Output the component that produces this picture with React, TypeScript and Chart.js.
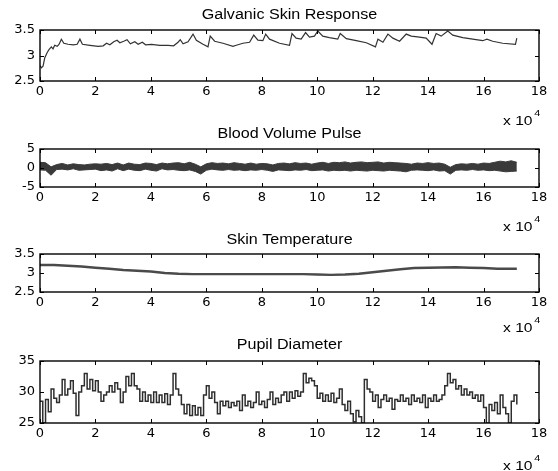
import React, { useEffect, useRef } from 'react';
import { Chart, registerables } from 'chart.js';

Chart.register(...registerables);

// ---------------- data (x in units of 10^4 samples) ----------------
const xTickMax = 18;
const xTickStep = 2;

// Galvanic Skin Response
const gsrX = [0.0, 0.05, 0.11, 0.17, 0.26, 0.33, 0.41, 0.47, 0.53, 0.62, 0.69, 0.77, 0.86, 1.01, 1.2, 1.34, 1.44, 1.53, 1.8, 2.1, 2.28, 2.4, 2.52, 2.66, 2.78, 2.88, 3.02, 3.14, 3.26, 3.42, 3.54, 3.69, 3.81, 4.02, 4.32, 4.62, 4.82, 4.98, 5.06, 5.16, 5.34, 5.52, 5.64, 5.88, 6.06, 6.14, 6.3, 6.6, 6.96, 7.08, 7.32, 7.56, 7.71, 7.86, 8.04, 8.14, 8.28, 8.64, 9.0, 9.09, 9.24, 9.42, 9.58, 9.72, 9.9, 10.02, 10.2, 10.44, 10.74, 10.83, 11.05, 11.41, 11.77, 12.1, 12.19, 12.37, 12.55, 12.73, 12.97, 13.21, 13.39, 13.69, 13.93, 14.14, 14.29, 14.47, 14.71, 14.89, 15.25, 15.73, 15.97, 16.12, 16.33, 16.69, 17.15, 17.2];
const gsrY = [2.8, 2.76, 2.79, 2.95, 3.06, 3.12, 3.17, 3.13, 3.2, 3.18, 3.22, 3.32, 3.24, 3.22, 3.21, 3.22, 3.32, 3.22, 3.2, 3.18, 3.19, 3.24, 3.21, 3.27, 3.3, 3.25, 3.28, 3.31, 3.23, 3.27, 3.22, 3.26, 3.21, 3.22, 3.2, 3.2, 3.19, 3.26, 3.31, 3.23, 3.27, 3.42, 3.3, 3.22, 3.17, 3.38, 3.28, 3.24, 3.18, 3.2, 3.24, 3.26, 3.4, 3.3, 3.29, 3.42, 3.32, 3.24, 3.2, 3.43, 3.34, 3.32, 3.45, 3.36, 3.38, 3.48, 3.38, 3.35, 3.32, 3.43, 3.33, 3.29, 3.25, 3.17, 3.32, 3.26, 3.42, 3.34, 3.28, 3.42, 3.38, 3.36, 3.34, 3.22, 3.43, 3.38, 3.48, 3.4, 3.35, 3.31, 3.29, 3.32, 3.28, 3.24, 3.22, 3.34];

// Blood Volume Pulse: upper / lower envelope of the dense trace
const bvpX = [0.0, 0.2, 0.4, 0.6, 0.8, 1.0, 1.2, 1.4, 1.6, 1.8, 2.0, 2.2, 2.4, 2.6, 2.8, 3.0, 3.2, 3.4, 3.6, 3.8, 4.0, 4.2, 4.4, 4.6, 4.8, 5.0, 5.2, 5.4, 5.6, 5.8, 6.0, 6.2, 6.4, 6.6, 6.8, 7.0, 7.2, 7.4, 7.6, 7.8, 8.0, 8.2, 8.4, 8.6, 8.8, 9.0, 9.2, 9.4, 9.6, 9.8, 10.0, 10.2, 10.4, 10.6, 10.8, 11.0, 11.2, 11.4, 11.6, 11.8, 12.0, 12.2, 12.4, 12.6, 12.8, 13.0, 13.2, 13.4, 13.6, 13.8, 14.0, 14.2, 14.4, 14.6, 14.8, 15.0, 15.2, 15.4, 15.6, 15.8, 16.0, 16.2, 16.4, 16.6, 16.8, 17.0, 17.2];
const bvpUpper = [1.5, 1.4, 0.3, 0.9, 1.2, 0.8, 1.1, 0.9, 0.8, 1.0, 1.1, 1.0, 1.2, 0.9, 1.3, 0.8, 1.3, 1.0, 0.9, 1.3, 1.2, 0.9, 1.3, 1.1, 1.3, 1.4, 1.1, 1.5, 1.0, 0.3, 1.1, 1.4, 1.2, 1.3, 1.1, 1.4, 1.2, 1.0, 1.3, 1.0, 1.2, 1.1, 0.8, 1.2, 1.3, 1.1, 1.4, 1.2, 1.3, 1.0, 1.3, 1.5, 1.2, 1.5, 1.4, 1.6, 1.3, 1.5, 1.6, 1.4, 1.5, 1.6, 1.3, 1.5, 1.4, 1.3, 1.2, 1.0, 1.3, 1.2, 1.4, 1.2, 1.3, 1.0, 0.2, 0.9, 1.1, 1.0, 1.2, 1.0, 1.3, 1.2, 1.5, 1.8, 1.6, 1.9, 1.5];
const bvpLower = [-0.5, -0.6, -1.9, -0.4, -0.3, -0.5, -0.2, -0.6, -0.5, -0.4, -0.3, -0.7, -0.5, -0.8, -0.2, -0.7, -0.3, -0.6, -0.7, -0.3, -0.6, -0.8, -0.2, -0.5, -0.4, -0.6, -0.7, -0.5, -0.9, -1.6, -0.6, -0.3, -0.5, -0.6, -0.4, -0.6, -0.5, -0.7, -0.5, -0.6, -0.4, -0.6, -0.9, -0.5, -0.6, -0.7, -0.5, -0.6, -0.4, -0.7, -0.6, -0.5, -0.8, -0.6, -0.7, -0.6, -0.8, -0.6, -0.7, -0.8, -0.6, -0.7, -0.8, -0.6, -0.7, -0.8, -1.0, -0.6, -0.5, -0.6, -0.7, -0.5, -0.8, -0.7, -1.6, -0.6, -0.5, -0.6, -0.4, -0.6, -0.5, -0.7, -0.6, -0.8, -1.0, -0.9, -0.8];

// Skin Temperature
const tempX = [0.0, 0.5, 1.0, 1.5, 2.0, 2.5, 3.0, 3.5, 4.0, 4.5, 5.0, 5.5, 6.0, 7.0, 8.0, 9.0, 9.5, 10.0, 10.5, 11.0, 11.5, 12.0, 12.5, 13.0, 13.5, 14.0, 15.0, 15.5, 16.0, 16.5, 17.2];
const tempY = [3.21, 3.21, 3.19, 3.17, 3.14, 3.11, 3.08, 3.06, 3.04, 3.0, 2.98, 2.97, 2.97, 2.97, 2.97, 2.97, 2.97, 2.96, 2.95, 2.96, 2.98, 3.02, 3.06, 3.1, 3.13, 3.14, 3.15, 3.14, 3.13, 3.11, 3.11];

// Pupil Diameter, one reading every 0.1 (x 10^4)
const pupilStart = 0;
const pupilStep = 0.1;
const pupilY = [
  28.5, 25.0, 28.8, 26.8, 30.5, 29.0, 28.3, 29.5, 32.0, 29.5,
  30.5, 31.8, 29.8, 26.2, 30.0, 31.0, 33.0, 30.5, 32.0, 30.2,
  31.8, 30.0, 28.5, 29.5, 30.0, 31.0, 30.0, 31.5, 30.5, 28.3,
  30.0, 32.5, 31.0, 33.0, 31.0, 30.5, 28.5, 30.0, 28.5, 29.5,
  28.3, 30.0, 28.3, 29.5, 28.3, 29.7, 28.0, 29.5, 33.0, 30.5,
  29.5, 28.0, 26.5, 28.0, 26.2, 27.8, 26.3, 27.5, 26.2, 29.5,
  31.0, 29.0, 30.0, 28.3, 26.5, 28.5, 27.8, 28.5, 27.5, 28.3,
  27.8, 28.5, 27.0, 29.5, 27.8, 28.5, 27.5, 28.3, 30.0, 28.0,
  28.5, 27.5, 28.8, 30.0, 28.0, 29.0, 28.3, 29.5, 30.0, 28.5,
  30.0, 29.0, 30.2, 29.3, 30.0, 33.0, 31.5, 32.2, 31.8, 31.0,
  29.0, 29.8, 28.5, 29.5, 28.5, 29.8, 28.3, 29.0, 30.5, 28.0,
  27.0, 28.5, 26.5, 25.2, 27.0, 26.0, 25.0, 32.0, 30.5, 30.0,
  28.5, 29.5, 27.5, 28.8, 29.5, 28.5, 29.0, 27.2, 28.8, 28.5,
  29.5, 28.5, 29.0, 28.0, 29.5, 28.5, 29.0, 28.3, 29.5, 27.5,
  29.0, 28.5, 29.5, 28.5, 28.8, 29.5, 31.0, 33.0, 31.5, 32.0,
  30.5, 31.0, 29.5, 30.5, 29.5, 30.0, 29.0, 29.5, 28.5, 29.5,
  27.5, 25.0, 28.0, 27.0, 28.3, 26.5, 29.5, 27.5, 26.5, 25.0,
  28.5, 29.5, 28.0,
];

const titles = ['Galvanic Skin Response', 'Blood Volume Pulse', 'Skin Temperature', 'Pupil Diameter'];
const yRanges: [number, number, number][] = [
  [2.5, 3.5, 0.5],
  [-5, 5, 5],
  [2.5, 3.5, 0.5],
  [25, 35, 5],
];

// ---------------- layout (page pixels) ----------------
const PAGE_W = 558;
const PAGE_H = 471;
const PLOT_LEFT = 40;
const PLOT_RIGHT = 539;
const panelLayout = [
  { top: 30, bottom: 81, titleY: 15.5, expY: 121 },
  { top: 149, bottom: 187, titleY: 134, expY: 227 },
  { top: 254, bottom: 292, titleY: 240.5, expY: 328 },
  { top: 361, bottom: 423, titleY: 345.5, expY: 466 },
];
const FONT = '"Liberation Sans", Arial, sans-serif';
const LINE = '#333333';

function pts(xs: number[], ys: number[]) {
  return ys.map((y, i) => ({ x: xs[i], y }));
}

function makeFrame(idx: number) {
  const lay = panelLayout[idx];
  return {
    id: 'matlabFrame' + idx,
    afterDraw(chart: any) {
      const { ctx, chartArea: a, scales } = chart;
      ctx.save();
      ctx.strokeStyle = '#000';
      ctx.lineWidth = 1.4;
      ctx.strokeRect(a.left, a.top, a.right - a.left, a.bottom - a.top);
      ctx.lineWidth = 1;
      const tl = 4;
      const xs = scales.x;
      xs.ticks.forEach((t: any) => {
        const px = Math.round(xs.getPixelForValue(t.value)) + 0.5;
        ctx.beginPath();
        ctx.moveTo(px, a.bottom);
        ctx.lineTo(px, a.bottom - tl);
        ctx.moveTo(px, a.top);
        ctx.lineTo(px, a.top + tl);
        ctx.stroke();
      });
      const ys = scales.y;
      ys.ticks.forEach((t: any) => {
        const py = Math.round(ys.getPixelForValue(t.value)) + 0.5;
        ctx.beginPath();
        ctx.moveTo(a.left, py);
        ctx.lineTo(a.left + tl, py);
        ctx.moveTo(a.right, py);
        ctx.lineTo(a.right - tl, py);
        ctx.stroke();
      });
      ctx.fillStyle = '#000';
      ctx.textBaseline = 'middle';
      ctx.textAlign = 'center';
      // slight horizontal stretch, like the reference's widened glyphs
      const cx = (a.left + a.right) / 2;
      ctx.save();
      ctx.translate(cx, lay.titleY);
      ctx.scale(1.15, 1);
      ctx.font = '14px ' + FONT;
      ctx.fillText(titles[idx], 0, 0);
      ctx.restore();
      ctx.save();
      ctx.translate(503, lay.expY);
      ctx.scale(1.2, 1);
      ctx.textAlign = 'left';
      ctx.font = '13px ' + FONT;
      ctx.fillText('x 10', 0, 0);
      ctx.font = '9px ' + FONT;
      ctx.fillText('4', 26, -7);
      ctx.restore();
      ctx.restore();
    },
  };
}

function datasetsFor(idx: number): any[] {
  const base = { pointRadius: 0, borderWidth: 1.2, borderColor: LINE, tension: 0, fill: false };
  if (idx === 0) return [{ ...base, data: pts(gsrX, gsrY) }];
  if (idx === 1)
    return [
      { ...base, borderColor: '#3a3a3a', borderWidth: 1, data: pts(bvpX, bvpUpper) },
      { ...base, borderColor: '#3a3a3a', borderWidth: 1, backgroundColor: '#3a3a3a', fill: '-1', data: pts(bvpX, bvpLower) },
    ];
  if (idx === 2) return [{ ...base, borderWidth: 2.4, borderColor: '#4a4a4a', data: pts(tempX, tempY) }];
  return [
    {
      ...base,
      stepped: 'before',
      borderWidth: 1.5,
      borderColor: '#2e2e2e',
      data: pupilY.map((y, i) => ({ x: pupilStart + i * pupilStep, y })),
    },
  ];
}

function Panel({ idx }: { idx: number }) {
  const ref = useRef<HTMLCanvasElement | null>(null);
  useEffect(() => {
    if (!ref.current) return;
    const lay = panelLayout[idx];
    const [yMin, yMax, yStep] = yRanges[idx];
    const tickFont = { family: '"DejaVu Sans", sans-serif', size: 13 };
    const chart = new Chart(ref.current, {
      type: 'line',
      data: { datasets: datasetsFor(idx) },
      options: {
        animation: false,
        responsive: false,
        devicePixelRatio: 1,
        layout: { padding: { top: lay.top, right: PAGE_W - PLOT_RIGHT, bottom: 0, left: 0 } },
        plugins: { legend: { display: false }, tooltip: { enabled: false } },
        scales: {
          x: {
            type: 'linear',
            min: 0,
            max: xTickMax,
            ticks: {
              stepSize: xTickStep,
              autoSkip: false,
              maxRotation: 0,
              padding: 3,
              color: '#000',
              font: tickFont,
              callback: (v: any) => String(v),
            },
            grid: { display: false, drawTicks: false },
            border: { display: false },
            afterFit: (s: any) => {
              s.height = PAGE_H - lay.bottom;
            },
          },
          y: {
            type: 'linear',
            min: yMin,
            max: yMax,
            ticks: { stepSize: yStep, padding: 5, color: '#000', font: tickFont, callback: (v: any) => String(v) },
            grid: { display: false, drawTicks: false },
            border: { display: false },
            afterFit: (s: any) => {
              s.width = PLOT_LEFT;
            },
          },
        },
      } as any,
      plugins: [makeFrame(idx)],
    });
    return () => chart.destroy();
  }, [idx]);
  return (
    <canvas
      ref={ref}
      width={PAGE_W}
      height={PAGE_H}
      style={{ position: 'absolute', left: 0, top: 0, width: PAGE_W, height: PAGE_H }}
    />
  );
}

export default function App() {
  return (
    <div
      style={{
        position: 'absolute',
        left: 0,
        top: 0,
        width: PAGE_W,
        height: PAGE_H,
        overflow: 'hidden',
        background: '#fff',
      }}
    >
      {[0, 1, 2, 3].map((i) => (
        <Panel key={i} idx={i} />
      ))}
    </div>
  );
}
